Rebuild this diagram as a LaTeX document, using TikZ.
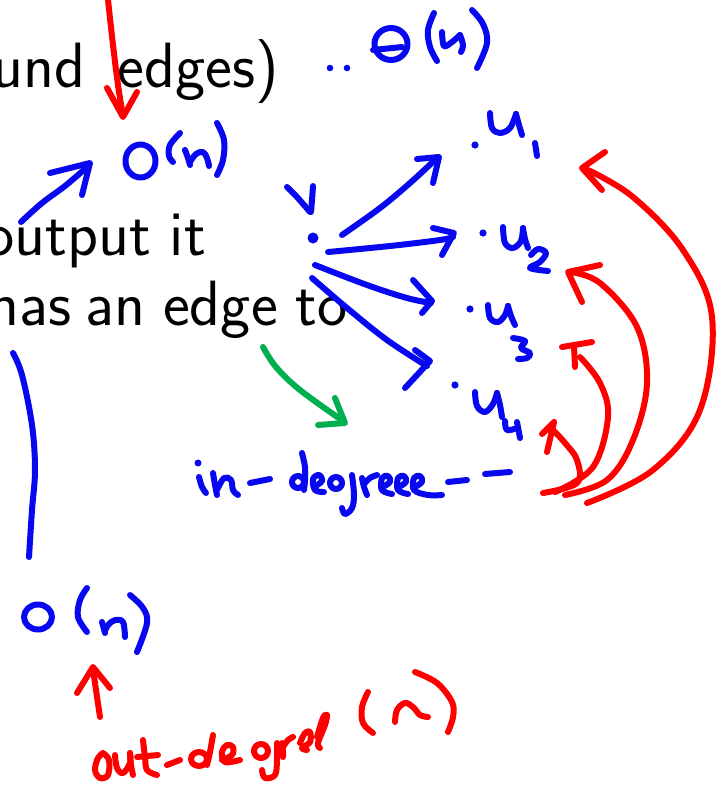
\documentclass[tikz,border=0pt]{standalone}
\usepackage{fontspec}
\definecolor{penblue}{RGB}{8,8,240}
\definecolor{penred}{RGB}{255,0,0}
\definecolor{pengreen}{RGB}{0,176,80}
\begin{document}
\begin{tikzpicture}[x=1pt,y=-1pt,
  pen/.style={line width=6pt,line cap=round,line join=round},
  bl/.style={pen,draw=penblue},
  rd/.style={pen,draw=penred},
  gr/.style={pen,draw=pengreen},
  txt/.style={inner sep=0pt,anchor=base east,font=\sffamily\fontsize{64}{76}\selectfont},
  sm/.style={smooth,tension=0.6}]
\useasboundingbox (0,0) rectangle (719,785);
\clip (0,0) rectangle (719,785);
\fill[white] (0,0) rectangle (719,785);

% printed text
\node[txt] (w1) at (86,87) {und};
\node[txt] (w2) at (279,87) {edges)};
\node[txt] (w3) at (151,255) {output};
\node[txt] (w4) at (206,255) {it};
\node[txt] (w5) at (72,325) {has};
\node[txt] (w6) at (146,325) {an};
\node[txt] (w7) at (278,325) {edge};
\node[txt] (w8) at (348,325) {to};

% red arrow from top to O(n)
\draw[rd] plot[sm] coordinates {(108,0)(113,45)(118,85)(123,116)};
\draw[rd] (107,88) -- (123,117) -- (137,92);

% O(n) top
\draw[bl] (140.5,161) ellipse [x radius=15,y radius=16.5];
\draw[bl] plot[sm] coordinates {(180,133)(170,145)(169,156)(173,162)};
\draw[bl] plot[sm] coordinates {(185,150)(188,158)(190,165)};
\draw[bl] plot[sm] coordinates {(190,162)(196,154)(203,152)(207,158)(209,166)};
\draw[bl] plot[sm] coordinates {(217,123)(224,140)(223,160)(217,175)};

% blue arrow to O(n)
\draw[bl] plot[sm] coordinates {(21,222)(42,203)(65,186)(86,168)};
\draw[bl] (50,173) -- (90,163) -- (82,195);

% Theta(n)
\fill[penblue] (330,68) circle (3.3);
\fill[penblue] (347,68) circle (3.3);
\draw[bl] (391,44) ellipse [x radius=16.5,y radius=16];
\draw[bl] (373,50) -- (402,47);
\draw[bl] plot[sm] coordinates {(434,13)(428,30)(430,47)(437,61)};
\draw[bl] plot[sm] coordinates {(442,32)(444,46)(452,42)(460,35)};
\draw[bl] plot[sm] coordinates {(460,35)(463,45)(461,52)};
\draw[bl] plot[sm] coordinates {(472,10)(483,24)(487,43)(477,68)};

% v
\draw[bl] plot[sm] coordinates {(287,187)(297,197)(310,212)};
\draw[bl] plot[sm] coordinates {(313,186)(312,200)(311,212)};
\fill[penblue] (313,238) coordinate (v) circle (5.5);

% arrows from v
\draw[bl] plot[sm] coordinates {(342,235)(380,208)(410,183)(436,159)};
\draw[bl] (417,159) -- (439,157) -- (433,183);
\draw[bl] plot[sm] coordinates {(328,252)(390,246)(440,240)(453,237)};
\draw[bl] (433,228) -- (454,233) -- (442,255);
\draw[bl] plot[sm] coordinates {(315,265)(367,285)(407,298)(431,303)};
\draw[bl] (413,280) -- (432,301) -- (422,313);
\draw[bl] plot[sm] coordinates {(312,278)(347,308)(387,340)(427,366)};
\draw[bl] (415,350) -- (430,361) -- (405,388);

% u dots
\fill[penblue] (475,145) coordinate (u1) circle (3.6);
\fill[penblue] (483,233) coordinate (u2) circle (3.6);
\fill[penblue] (470,309) coordinate (u3) circle (3.6);
\fill[penblue] (455,385) coordinate (u4) circle (3.6);

% u1
\draw[bl] plot[sm] coordinates {(490,113)(492,128)(500,133)(510,128)(516,114)};
\draw[bl] plot[sm] coordinates {(516,114)(519,125)(522,135)};
\draw[bl] (535,143) -- (537,156);
% u2
\draw[bl] plot[sm] coordinates {(503,227)(505,243)(513,248)(521,241)(523,228)};
\draw[bl] plot[sm] coordinates {(523,228)(525,239)(528,248)};
\draw[bl] plot[sm] coordinates {(531,255)(538,249)(546,253)(540,262)(530,268)(548,271)};
% u3
\draw[bl] plot[sm] coordinates {(488,305)(490,318)(498,322)(505,315)(508,306)};
\draw[bl] plot[sm] coordinates {(508,306)(511,316)(515,325)};
\draw[bl] plot[sm] coordinates {(513,338)(525,341)(521,348)(530,353)(527,358)(518,359)};
% u4
\draw[bl] plot[sm] coordinates {(475,392)(477,406)(485,412)(493,404)(497,393)};
\draw[bl] plot[sm] coordinates {(497,393)(500,405)(502,417)};
\draw[bl] plot[sm] coordinates {(505,421)(507,430)(517,428)};
\draw[bl] (517,422) -- (520,438);

% green arrow
\draw[gr] plot[sm] coordinates {(263,347)(276,367)(300,390)(343,421)};
\draw[gr] (318,425) -- (345,423) -- (335,398);

% in-degree--
\fill[penblue] (198,463) circle (3.5);
\draw[bl] plot[sm] coordinates {(199,477)(202,487)(206,493)};
\draw[bl] plot[sm] coordinates {(213,473)(215,485)(217,495)};
\draw[bl] plot[sm] coordinates {(217,490)(224,478)(231,480)(233,490)(238,495)};
\draw[bl] (250,483) -- (270,479);
\draw[bl] (298,482) ellipse [x radius=6,y radius=6];
\draw[bl] plot[sm] coordinates {(302,453)(305,467)(305,480)(304,490)};
\draw[bl] plot[sm] coordinates {(314,487)(322,481)(319,475)(313,479)(315,490)(324,492)};
\draw[bl] (336,483) ellipse [x radius=6,y radius=6];
\draw[bl] plot[sm] coordinates {(352,475)(354,495)(352,508)(345,514)(342,508)};
\draw[bl] plot[sm] coordinates {(362,478)(364,487)(367,495)};
\draw[bl] plot[sm] coordinates {(364,484)(370,478)(377,475)};
\draw[bl] plot[sm] coordinates {(381,488)(390,482)(388,476)(382,478)(382,490)(392,494)};
\draw[bl] plot[sm] coordinates {(397,488)(406,482)(404,476)(398,478)(398,490)(408,494)};
\draw[bl] plot[sm] coordinates {(413,488)(422,482)(420,476)(414,478)(414,490)(428,495)(442,495)};
\draw[bl] (448,482) -- (467,480);
\draw[bl] (485,474) -- (510,472);

% red arcs from in-degree to u's
\draw[rd] plot[sm] coordinates {(587,503)(653,470)(700,410)(712,317)(683,250)(633,197)(588,170)};
\draw[rd] (605,152) -- (582,168) -- (602,190);
\draw[rd] plot[sm] coordinates {(565,495)(607,480)(633,440)(647,383)(637,327)(600,283)(570,272)};
\draw[rd] (600,265) -- (568,272) -- (582,302);
\draw[rd] plot[sm] coordinates {(555,492)(593,467)(608,417)(600,383)(580,357)};
\draw[rd] (562,347) -- (592,342);
\draw[rd] (574,346) -- (575,367);
\draw[rd] plot[sm] coordinates {(543,493)(577,483)(577,460)(565,443)(553,430)};
\draw[rd] (542,434) -- (554,422) -- (547,452);

% left blue line
\draw[bl] plot[sm] coordinates {(13,353)(22,375)(32,425)(35,470)(32,510)(29,557)};

% O(n) bottom
\draw[bl] (38,617) ellipse [x radius=14,y radius=12.5];
\draw[bl] plot[sm] coordinates {(87,588)(80,600)(78,617)(87,632)};
\draw[bl] plot[sm] coordinates {(102,622)(105,633)};
\draw[bl] plot[sm] coordinates {(105,631)(108,625)(115,620)(123,622)(125,637)};
\draw[bl] plot[sm] coordinates {(130,595)(143,608)(147,623)(137,652)};

% red arrow up
\draw[rd] plot[sm] coordinates {(100,717)(96,690)(93,669)};
\draw[rd] (77,693) -- (93,667) -- (110,688);

% out-degree (n)
\draw[rd] plot[sm] coordinates {(103,753)(98,758)(95,770)(100,778)(108,775)(109,760)(103,753)};
\draw[rd] plot[sm] coordinates {(115,755)(117,768)(123,773)(130,763)(130,753)};
\draw[rd] plot[sm] coordinates {(130,753)(131,765)(133,775)};
\draw[rd] plot[sm] coordinates {(143,740)(145,757)(147,770)(157,775)};
\draw[rd] (137,757) -- (158,755);
\draw[rd] (167,765) -- (180,760);
\draw[rd] (199,759) ellipse [x radius=8,y radius=7];
\draw[rd] plot[sm] coordinates {(213,735)(210,752)(207,765)};
\draw[rd] plot[sm] coordinates {(222,760)(232,755)(233,747)(227,745)(222,752)(225,762)(240,760)};
\draw[rd] (261,751) ellipse [x radius=7,y radius=7];
\draw[rd] plot[sm] coordinates {(277,743)(277,760)(275,775)(265,778)(262,770)};
\draw[rd] plot[sm] coordinates {(282,743)(283,750)(283,757)};
\draw[rd] plot[sm] coordinates {(283,747)(288,740)(293,737)};
\draw[rd] plot[sm] coordinates {(300,743)(305,733)(310,732)(310,742)(302,748)(307,750)};
\draw[rd] plot[sm] coordinates {(317,737)(323,718)(327,715)(325,725)(318,743)(320,748)};
\draw[rd] plot[sm] coordinates {(368,692)(362,707)(363,723)(373,733)};
\draw[rd] plot[sm] coordinates {(395,722)(397,710)(405,703)(413,707)(420,715)(428,717)};
\draw[rd] plot[sm] coordinates {(415,672)(437,683)(452,702)(453,717)(448,732)};
\end{tikzpicture}
\end{document}
